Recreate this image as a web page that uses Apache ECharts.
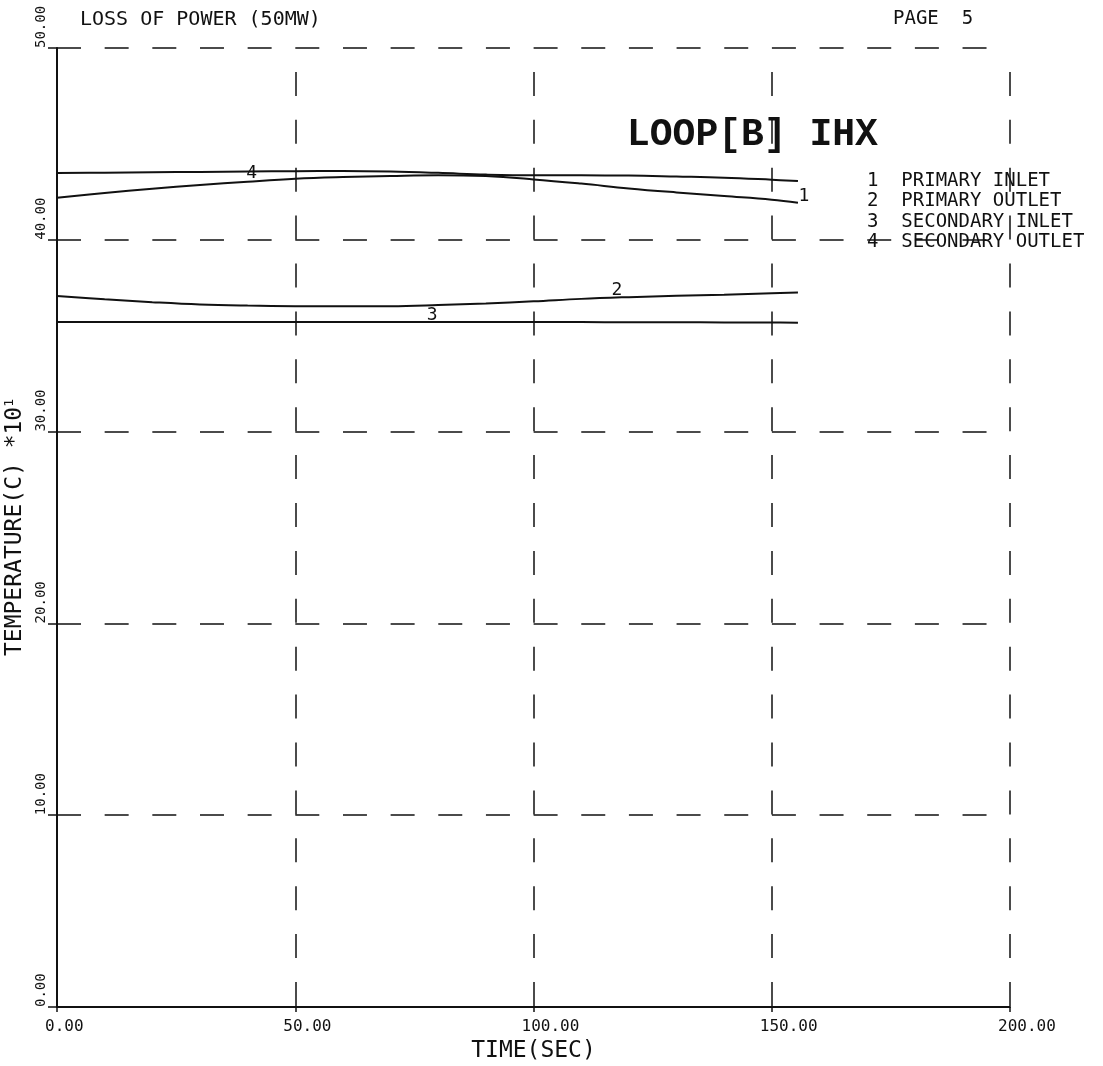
<!DOCTYPE html>
<html>
<head>
<meta charset="utf-8">
<script src="https://cdn.jsdelivr.net/npm/echarts@6/dist/echarts.min.js"></script>
<style>html,body{margin:0;padding:0;background:#fff}#c{width:1103px;height:1066px}</style>
</head>
<body>
<div id="c"></div>
<script>
// ---- data ----
const times = [0, 10, 20, 30, 40, 50, 60, 70, 80, 90, 100, 110, 120, 130, 140, 150, 155.5];
const primaryInlet    = [42.19, 42.44, 42.66, 42.86, 43.03, 43.18, 43.27, 43.33, 43.37, 43.32, 43.15, 42.93, 42.68, 42.47, 42.28, 42.09, 41.93];
const primaryOutlet   = [37.07, 36.90, 36.75, 36.63, 36.57, 36.54, 36.53, 36.54, 36.60, 36.68, 36.79, 36.92, 37.01, 37.08, 37.14, 37.21, 37.25];
const secondaryInlet  = [35.72, 35.72, 35.72, 35.72, 35.72, 35.72, 35.72, 35.72, 35.72, 35.72, 35.71, 35.71, 35.70, 35.70, 35.69, 35.69, 35.68];
const secondaryOutlet = [43.48, 43.50, 43.52, 43.54, 43.56, 43.58, 43.59, 43.56, 43.49, 43.40, 43.36, 43.36, 43.35, 43.30, 43.24, 43.13, 43.06];
const seriesNames = ['PRIMARY INLET', 'PRIMARY OUTLET', 'SECONDARY INLET', 'SECONDARY OUTLET'];
const curveNumbers = ['1', '2', '3', '4'];
const labelIndex = [16, 12, 8, 4];          // which data point carries the curve number
const xTickLabels = ['0.00', '50.00', '100.00', '150.00', '200.00'];
const yTickLabels = ['0.00', '10.00', '20.00', '30.00', '40.00', '50.00'];
const titleText = 'LOSS OF POWER (50MW)';
const pageText = 'PAGE  5';
const plotTitle = 'LOOP[B] IHX';
const xName = 'TIME(SEC)';
const yName = 'TEMPERATURE(C) *10';
const yNameExp = '1';

// ---- styling ----
const MONO = '"DejaVu Sans Mono", monospace';
const INK = '#111';
const labelOffsets = [[6, -6], [-12, -7], [-6, -7], [4, 2]];
const CW = 16 * 0.602;

const allValues = [primaryInlet, primaryOutlet, secondaryInlet, secondaryOutlet];

const series = allValues.map((vals, si) => {
  const data = times.map((t, i) => [t, vals[i]]);
  const li = labelIndex[si];
  data[li] = {
    value: data[li],
    label: {
      show: true, formatter: curveNumbers[si], position: 'inside',
      offset: labelOffsets[si], color: INK, fontFamily: MONO, fontSize: 18
    }
  };
  return {
    name: seriesNames[si], type: 'line', data: data,
    smooth: 0.4,
    showSymbol: true, symbol: 'circle', symbolSize: 1,
    itemStyle: { color: 'rgba(0,0,0,0)' },
    lineStyle: { color: INK, width: 2 },
    label: { show: false },
    emphasis: { disabled: true },
    z: 5
  };
});

const chart = echarts.init(document.getElementById('c'), null, { renderer: 'canvas' });
chart.setOption({
  animation: false,
  backgroundColor: '#fff',
  title: [
    { text: titleText, left: 80, top: 10, padding: 0,
      textStyle: { fontFamily: MONO, fontSize: 20, fontWeight: 'normal', color: INK } },
    { text: pageText, left: 893, top: 10, padding: 0,
      textStyle: { fontFamily: MONO, fontSize: 19, fontWeight: 'normal', color: INK } },
    { text: plotTitle, left: 627, top: 116, padding: 0,
      textStyle: { fontFamily: '"Liberation Mono", monospace', fontSize: 38, fontWeight: 'bold', color: INK } }
  ],
  legend: {
    orient: 'vertical', left: 862, top: 171, padding: 0,
    icon: 'none', itemWidth: 0, itemHeight: 14, itemGap: 0.5,
    selectedMode: false,
    data: seriesNames,
    formatter: name => curveNumbers[seriesNames.indexOf(name)] + '  ' + name,
    textStyle: { fontFamily: MONO, fontSize: 19, color: INK, lineHeight: 20 }
  },
  grid: { left: 57, right: 93, top: 48, bottom: 59, containLabel: false, outerBoundsMode: 'none' },
  xAxis: {
    type: 'value', min: 0, max: 200, interval: 50,
    name: xName, nameLocation: 'middle', nameGap: 29,
    nameTextStyle: { fontFamily: MONO, fontSize: 23, color: INK },
    axisLine: { show: true, onZero: false, lineStyle: { color: INK, width: 2 } },
    axisTick: { show: true, length: 5, lineStyle: { color: INK, width: 1.5 } },
    axisLabel: {
      show: true, margin: 12, showMinLabel: true, showMaxLabel: true, hideOverlap: false,
      formatter: v => {
        const txt = xTickLabels[Math.round(v / 50)];
        return '{s' + txt.length + '|}{t|' + txt + '}';
      },
      rich: {
        s4: { width: 4 * CW - 24 },
        s5: { width: 5 * CW - 24 },
        s6: { width: 6 * CW - 24 },
        t: { fontFamily: MONO, fontSize: 16, color: INK }
      }
    },
    splitLine: { show: true, showMinLine: true, showMaxLine: true,
      lineStyle: { color: INK, width: 1.5, type: [24, 23.9], dashOffset: 24 } }
  },
  yAxis: {
    type: 'value', min: 0, max: 50, interval: 10,
    name: '{a|' + yName + '}{e|' + yNameExp + '}',
    nameLocation: 'middle', nameRotate: 90, nameGap: 25,
    nameTextStyle: {
      rich: {
        a: { fontFamily: MONO, fontSize: 23, color: INK },
        e: { fontFamily: MONO, fontSize: 13, color: INK, verticalAlign: 'top' }
      }
    },
    axisLine: { show: true, onZero: false, lineStyle: { color: INK, width: 2 } },
    axisTick: { show: true, length: 9, lineStyle: { color: INK, width: 1.5 } },
    axisLabel: {
      show: true, rotate: 90, margin: 9, align: 'left', verticalAlign: 'bottom',
      showMinLabel: true, showMaxLabel: true, hideOverlap: false,
      fontFamily: MONO, fontSize: 14, color: INK,
      formatter: v => yTickLabels[Math.round(v / 10)]
    },
    splitLine: { show: true, showMinLine: true, showMaxLine: true,
      lineStyle: { color: INK, width: 1.5, type: [24, 23.66], dashOffset: 0 } }
  },
  series: series
});
</script>
</body>
</html>
